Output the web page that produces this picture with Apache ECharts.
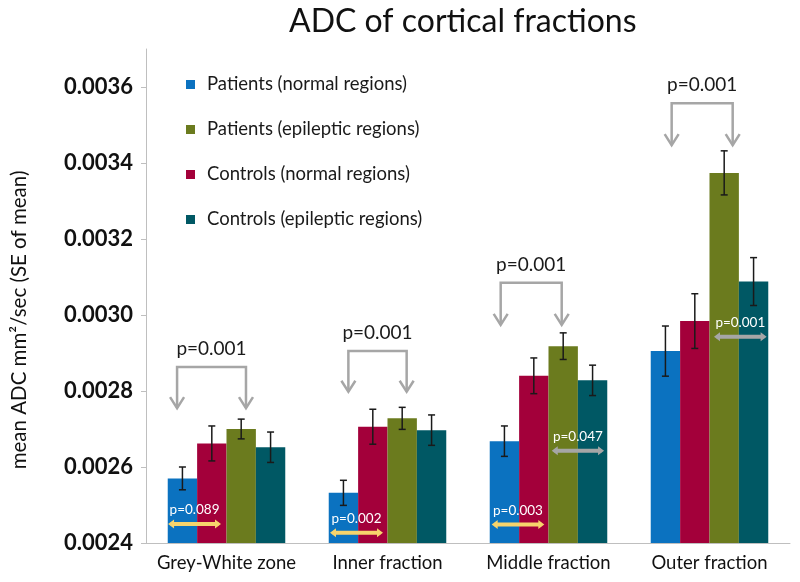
<!DOCTYPE html>
<html>
<head>
<meta charset="utf-8">
<script src="https://cdn.jsdelivr.net/npm/echarts@6/dist/echarts.min.js"></script>
<style>
html, body {margin: 0; padding: 0; background: #fff;}
#chart {width: 800px; height: 582px;}
</style>
</head>
<body>
<div id="chart"></div>
<script>
let categories = ['Grey-White zone', 'Inner fraction', 'Middle fraction', 'Outer fraction'];
let yTicks = [0.0024, 0.0026, 0.0028, 0.0030, 0.0032, 0.0034, 0.0036];

let seriesNames = ['Patients (normal regions)', 'Controls (normal regions)', 'Patients (epileptic regions)', 'Controls (epileptic regions)'];
let legendOrder = ['Patients (normal regions)', 'Patients (epileptic regions)', 'Controls (normal regions)', 'Controls (epileptic regions)'];

// mean ADC per fraction
let patientsNormal = [0.002570, 0.002532, 0.002668, 0.002905];
let controlsNormal = [0.002662, 0.002706, 0.002840, 0.002984];
let patientsEpileptic = [0.002700, 0.002728, 0.002918, 0.003374];
let controlsEpileptic = [0.002652, 0.002697, 0.002828, 0.003088];

// SE of mean
let sePatientsNormal = [0.000030, 0.000033, 0.000040, 0.000066];
let seControlsNormal = [0.000046, 0.000046, 0.000047, 0.000072];
let sePatientsEpileptic = [0.000026, 0.000029, 0.000035, 0.000058];
let seControlsEpileptic = [0.000040, 0.000040, 0.000040, 0.000063];

// bracket annotations (x as fraction of category width from its centre)
let bracketCats = [0, 1, 2, 3];
let bracketFrom = [-0.307, -0.243, -0.297, -0.235];
let bracketTo = [0.121, 0.119, 0.082, 0.144];
let bracketTop = [0.002863, 0.002905, 0.003085, 0.003557];
let bracketTip = [0.002755, 0.002798, 0.002974, 0.003447];
let bracketLabels = ['p=0.001', 'p=0.001', 'p=0.001', 'p=0.001'];

// double arrow annotations
let pairCats = [0, 1, 2, 2, 3];
let pairFrom = [-0.363, -0.357, -0.353, 0.020, 0.028];
let pairTo = [-0.034, -0.028, -0.026, 0.345, 0.355];
let pairValue = [0.002450, 0.002427, 0.002449, 0.002643, 0.002943];
let pairLabels = ['p=0.089', 'p=0.002', 'p=0.003', 'p=0.047', 'p=0.001'];
let pairColors = ['#f7d46c', '#f7d46c', '#f7d46c', '#a6a6a6', '#a6a6a6'];

let colors = ['#0b72c0', '#a3003a', '#6b7b1e', '#005864'];
let barCategoryGap = 0.27;
let fontFamily = 'Lato, "Open Sans", sans-serif';

let means = [patientsNormal, controlsNormal, patientsEpileptic, controlsEpileptic];
let errors = [sePatientsNormal, seControlsNormal, sePatientsEpileptic, seControlsEpileptic];

function buildErrorData() {
    let result = [];
    for (let s = 0; s < means.length; s++) {
        for (let i = 0; i < categories.length; i++) {
            result.push([i, s, means[s][i] - errors[s][i], means[s][i] + errors[s][i]]);
        }
    }
    return result;
}

function errorItem(params, api) {
    let cat = api.value(0);
    let s = api.value(1);
    let low = api.coord([cat, api.value(2)]);
    let high = api.coord([cat, api.value(3)]);
    let band = api.size([1, 0])[0];
    let barW = band * (1 - barCategoryGap) / 4;
    let x = low[0] + (s - 1.5) * barW;
    let cap = 3.5;
    let style = {stroke: '#1a1a1a', lineWidth: 1.5};
    return {
        type: 'group',
        children: [
            {type: 'line', shape: {x1: x, y1: high[1], x2: x, y2: low[1]}, style: style},
            {type: 'line', shape: {x1: x - cap, y1: high[1], x2: x + cap, y2: high[1]}, style: style},
            {type: 'line', shape: {x1: x - cap, y1: low[1], x2: x + cap, y2: low[1]}, style: style}
        ]
    };
}

function bracketItem(params, api) {
    let i = params.dataIndex;
    let top = api.coord([bracketCats[i], bracketTop[i]]);
    let tip = api.coord([bracketCats[i], bracketTip[i]]);
    let band = api.size([1, 0])[0];
    let x1 = top[0] + bracketFrom[i] * band;
    let x2 = top[0] + bracketTo[i] * band;
    let yTop = top[1];
    let yTip = tip[1];
    let style = {stroke: '#a6a6a6', lineWidth: 2.5, fill: null, lineJoin: 'miter'};
    return {
        type: 'group',
        children: [
            {type: 'polyline', shape: {points: [[x1, yTip], [x1, yTop], [x2, yTop], [x2, yTip]]}, style: style},
            {type: 'polyline', shape: {points: [[x1 - 7, yTip - 11], [x1, yTip], [x1 + 7, yTip - 11]]}, style: style},
            {type: 'polyline', shape: {points: [[x2 - 7, yTip - 11], [x2, yTip], [x2 + 7, yTip - 11]]}, style: style},
            {
                type: 'text',
                style: {
                    text: bracketLabels[i], x: (x1 + x2) / 2, y: yTop - 18,
                    align: 'center', verticalAlign: 'middle',
                    fontSize: 19, fontFamily: fontFamily, fill: '#1a1a1a'
                }
            }
        ]
    };
}

function pairItem(params, api) {
    let i = params.dataIndex;
    let c = api.coord([pairCats[i], pairValue[i]]);
    let band = api.size([1, 0])[0];
    let x1 = c[0] + pairFrom[i] * band;
    let x2 = c[0] + pairTo[i] * band;
    let y = c[1];
    let col = pairColors[i];
    return {
        type: 'group',
        children: [
            {type: 'line', shape: {x1: x1 + 4, y1: y, x2: x2 - 4, y2: y}, style: {stroke: col, lineWidth: 4, lineCap: 'round'}},
            {type: 'polygon', shape: {points: [[x1, y], [x1 + 6, y - 4.5], [x1 + 6, y + 4.5]]}, style: {fill: col}},
            {type: 'polygon', shape: {points: [[x2, y], [x2 - 6, y - 4.5], [x2 - 6, y + 4.5]]}, style: {fill: col}},
            {
                type: 'text',
                style: {
                    text: pairLabels[i], x: (x1 + x2) / 2, y: y - 14,
                    align: 'center', verticalAlign: 'middle',
                    fontSize: 13.5, fontFamily: fontFamily, fill: '#ffffff'
                }
            }
        ]
    };
}

let chart = echarts.init(document.getElementById('chart'));

let barSeries = seriesNames.map(function (name, s) {
    return {
        name: name,
        type: 'bar',
        data: means[s],
        barGap: '0%',
        barCategoryGap: (barCategoryGap * 100) + '%',
        itemStyle: {color: colors[s]}
    };
});

let option = {
    animation: false,
    backgroundColor: '#ffffff',
    color: colors,
    textStyle: {fontFamily: fontFamily},
    title: {
        text: 'ADC of cortical fractions',
        left: 284,
        top: 1,
        textStyle: {fontSize: 32, fontWeight: 'normal', color: '#111', fontFamily: fontFamily}
    },
    legend: {
        data: legendOrder,
        orient: 'vertical',
        left: 186,
        top: 75,
        padding: 0,
        itemGap: 26,
        itemWidth: 9,
        itemHeight: 9,
        icon: 'rect',
        textStyle: {fontSize: 18.5, color: '#1a1a1a', fontFamily: fontFamily, padding: [0, 0, 0, 7]}
    },
    grid: {left: 146, right: 10, top: 49, bottom: 39},
    xAxis: {
        type: 'category',
        data: categories,
        axisLine: {lineStyle: {color: '#bfbfbf', width: 1}},
        axisTick: {length: 5, lineStyle: {color: '#bfbfbf'}},
        axisLabel: {interval: 0, fontSize: 18.5, color: '#111', margin: 11, fontFamily: fontFamily}
    },
    yAxis: {
        type: 'value',
        min: 0.0024,
        max: 0.0037,
        name: 'mean ADC mm\u00b2/sec (SE of mean)',
        nameLocation: 'middle',
        nameRotate: 90,
        nameGap: 116,
        nameTextStyle: {fontSize: 20.5, color: '#111', fontFamily: fontFamily, padding: [0, 48, 0, 0]},
        axisLine: {show: true, lineStyle: {color: '#bfbfbf', width: 1}},
        axisTick: {show: true, length: 5, customValues: yTicks, lineStyle: {color: '#bfbfbf'}},
        axisLabel: {
            customValues: yTicks,
            formatter: function (v) { return v.toFixed(4); },
            fontSize: 22, fontWeight: 'bold', color: '#111', margin: 13, fontFamily: fontFamily
        },
        splitLine: {show: false}
    },
    series: barSeries.concat([
        {
            name: 'errors',
            type: 'custom',
            renderItem: errorItem,
            data: buildErrorData(),
            encode: {x: 0, y: [2, 3]},
            z: 10,
            silent: true
        },
        {
            name: 'brackets',
            type: 'custom',
            renderItem: bracketItem,
            data: bracketCats.map(function (c, i) { return [c, bracketTop[i]]; }),
            encode: {x: 0, y: 1},
            z: 11,
            silent: true
        },
        {
            name: 'pairs',
            type: 'custom',
            renderItem: pairItem,
            data: pairCats.map(function (c, i) { return [c, pairValue[i]]; }),
            encode: {x: 0, y: 1},
            z: 12,
            silent: true
        }
    ])
};

chart.setOption(option);
</script>
</body>
</html>
